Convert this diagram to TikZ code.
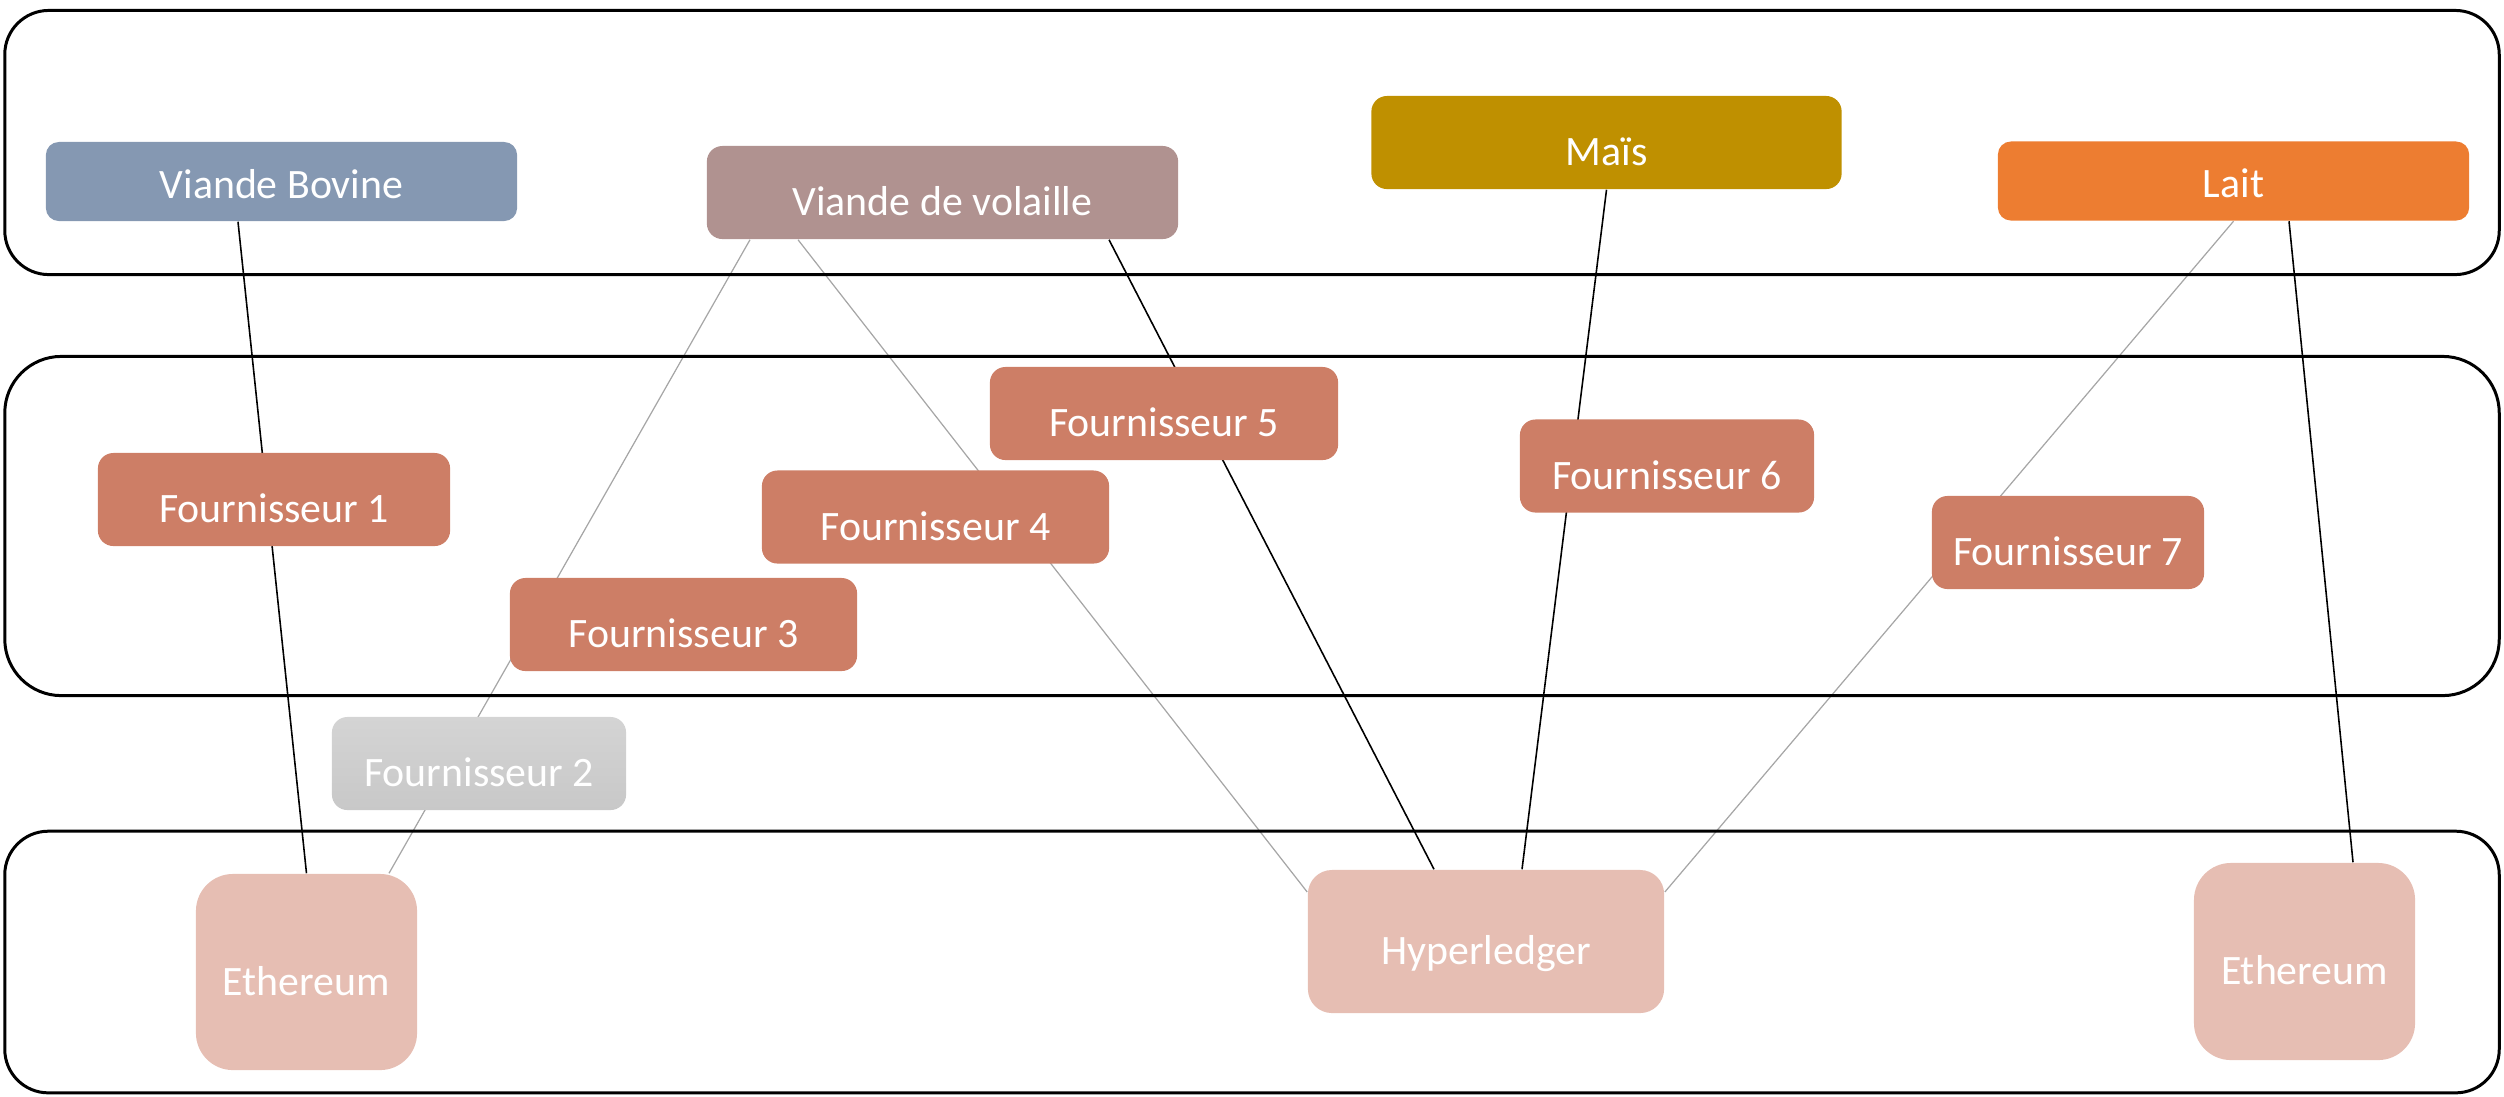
\documentclass[tikz,border=0pt]{standalone}
\usepackage{fontspec}
\setmainfont{Carlito}
\usetikzlibrary{calc,backgrounds}
\definecolor{cvb}{HTML}{8598B2}
\definecolor{cvdv}{HTML}{B09290}
\definecolor{cmais}{HTML}{BF9000}
\definecolor{clait}{HTML}{ED7D31}
\definecolor{cfour}{HTML}{CD7E66}
\definecolor{cchain}{HTML}{E6BEB3}
\definecolor{cgtop}{HTML}{D4D4D4}
\definecolor{cgbot}{HTML}{C8C8C8}
\definecolor{cline}{HTML}{A6A6A6}
\begin{document}
\begin{tikzpicture}[x=0.01cm,y=-0.01cm,
  band/.style={draw=black,line width=0.85pt,inner sep=0pt,minimum width=24.93cm},
  box/.style={inner sep=0pt,text=white,font=\fontsize{11.9pt}{14pt}\selectfont,
    text height=0.46cm,text depth=0cm,rounded corners=0.155cm,minimum height=0.93cm},
  flatbox/.style={box,text height=0.33cm,rounded corners=0.13cm,minimum height=0.79cm},
  four/.style={box,fill=cfour},
  chain/.style={box,fill=cchain},
  blk/.style={draw=black,line width=0.45pt},
  gry/.style={draw=cline,line width=0.35pt}
]
\useasboundingbox (0,0) rectangle (2504,1096);
% bands
\node[band,rounded corners=0.44cm,minimum height=2.64cm] (row1) at (1252,142.5) {};
\node[band,rounded corners=0.565cm,minimum height=3.39cm] (row2) at (1252,526) {};
\node[band,rounded corners=0.435cm,minimum height=2.615cm] (row3) at (1252,962) {};
% products
\node[flatbox,fill=cvb,minimum width=4.71cm] (vb) at (281.5,181.5) {Viande Bovine};
\node[box,fill=cvdv,minimum width=4.71cm] (vdv) at (942.5,192.5) {Viande de volaille};
\node[box,fill=cmais,minimum width=4.70cm] (mais) at (1606.5,142.5) {Maïs};
\node[flatbox,fill=clait,minimum width=4.71cm] (lait) at (2233.5,181) {Lait};
% suppliers
\node[four,minimum width=3.52cm] (f1) at (274,499.5) {Fournisseur 1};
\node[box,top color=cgtop,bottom color=cgbot,minimum width=2.94cm] (f2) at (479,763.5) {Fournisseur 2};
\node[four,minimum width=3.47cm] (f3) at (683.5,624.5) {Fournisseur 3};
\node[four,minimum width=3.47cm] (f4) at (935.5,517) {Fournisseur 4};
\node[four,minimum width=3.48cm] (f5) at (1164,413.5) {Fournisseur 5};
\node[four,minimum width=2.94cm] (f6) at (1667,466) {Fournisseur 6};
\node[four,minimum width=2.72cm] (f7) at (2068,542.5) {Fournisseur 7};
% chains
\node[chain,minimum width=2.21cm,minimum height=1.96cm,rounded corners=0.37cm] (eth1) at (306.5,972) {Ethereum};
\node[chain,minimum width=3.56cm,minimum height=1.43cm,rounded corners=0.24cm] (hyp) at (1486,941.5) {Hyperledger};
\node[chain,minimum width=2.21cm,minimum height=1.97cm,rounded corners=0.37cm] (eth2) at (2304.5,961.5) {Ethereum};
% connectors
\begin{scope}[on background layer]
\draw[blk] ($(vb.south)+(-43.5,0)$) -- (eth1.north);
\draw[gry] ($(vdv.south)+(-192.5,0)$) -- ($(eth1.north)+(82.5,0)$);
\draw[gry] ($(vdv.south)+(-144.5,0)$) -- ($(hyp.west)+(0,-49.5)$);
\draw[blk] ($(vdv.south)+(166.5,0)$) -- ($(hyp.north)+(-52,0)$);
\draw[blk] (mais.south) -- ($(hyp.north)+(36,0)$);
\draw[gry] (lait.south) -- ($(hyp.east)+(0,-49.5)$);
\draw[blk] ($(lait.south)+(55.5,0)$) -- ($(eth2.north)+(48.5,0)$);
\end{scope}
\end{tikzpicture}
\end{document}
